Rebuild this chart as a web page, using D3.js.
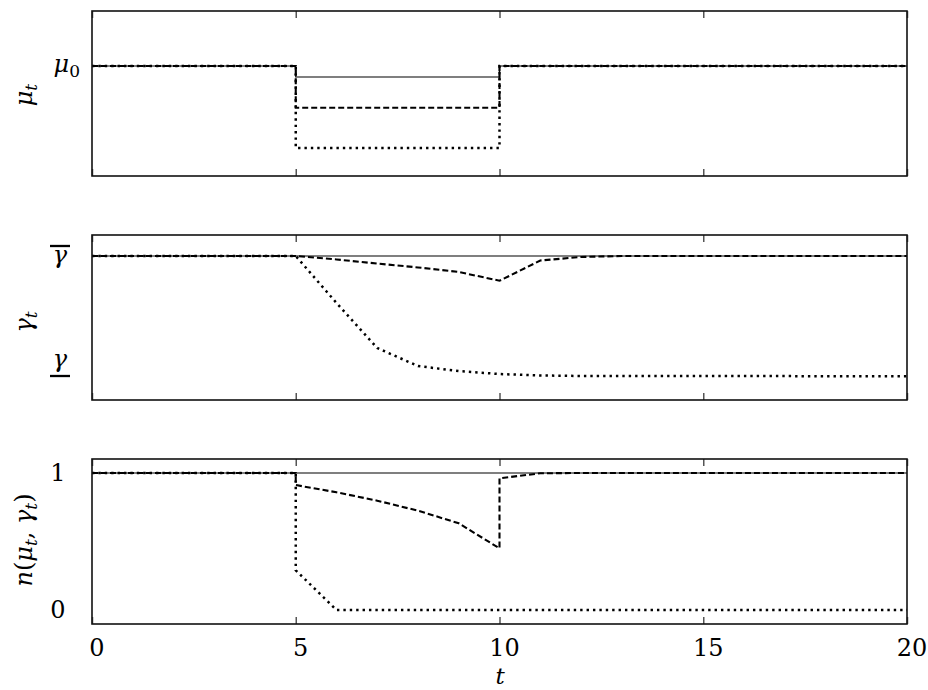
<!DOCTYPE html>
<html><head><meta charset="utf-8">
<script src="https://cdn.jsdelivr.net/npm/d3@7"></script>
<style>body{margin:0;background:#fff}svg{display:block}</style>
</head><body><svg id="chart" width="928" height="690"></svg>
<script>
// ---------------- data ----------------
const xTicks = [0, 5, 10, 15, 20];
const xTickLabels = ["0", "5", "10", "15", "20"];

// panel 1: mu_t (step after)
const tMu      = [0,1,2,3,4,5,6,7,8,9,10,11,12,13,14,15,16,17,18,19,20];
const muSolid  = [1,1,1,1,1,0.9,0.9,0.9,0.9,0.9,1,1,1,1,1,1,1,1,1,1,1];
const muDashed = [1,1,1,1,1,0.62,0.62,0.62,0.62,0.62,1,1,1,1,1,1,1,1,1,1,1];
const muDotted = [1,1,1,1,1,0.255,0.255,0.255,0.255,0.255,1,1,1,1,1,1,1,1,1,1,1];
const muTickValues = [1];

// panel 2: gamma_t  (gammaBar = 1, gammaUnder = 0)
const tGamma      = [0,1,2,3,4,5,6,7,8,9,10,11,12,13,14,15,16,17,18,19,20];
const gammaSolid  = [1,1,1,1,1,1,1,1,1,1,1,1,1,1,1,1,1,1,1,1,1];
const gammaDashed = [1,1,1,1,1,1,0.968,0.93,0.894,0.852,0.771,0.958,0.991,1,1,1,1,1,1,1,1];
const gammaDotted = [1,1,1,1,1,1,0.565,0.148,-0.019,-0.065,-0.093,-0.106,-0.111,-0.111,-0.112,-0.112,-0.112,-0.112,-0.113,-0.113,-0.113];
const gammaTickValues = [1, 0];

// panel 3: n(mu_t, gamma_t)  (jumps at t = 5 and t = 10)
const tN      = [0,1,2,3,4,5,5,6,7,8,9,10,10,11,12,13,14,15,16,17,18,19,20];
const nSolid  = [1,1,1,1,1,1,1,1,1,1,1,1,1,1,1,1,1,1,1,1,1,1,1];
const nDashed = [1,1,1,1,1,1,0.912,0.859,0.798,0.725,0.633,0.45,0.961,0.998,1,1,1,1,1,1,1,1,1];
const nDotted = [1,1,1,1,1,1,0.29,0,0,0,0,0,0,0,0,0,0,0,0,0,0,0,0];
const nTickValues = [1, 0];
const nTickLabels = ["1", "0"];

// ---------------- layout ----------------
const svg = d3.select("#chart");
svg.append("rect").attr("width", 928).attr("height", 690).attr("fill", "#fff");
const serif = "'DejaVu Serif', serif";
const FS = 24;
const SUB = 17;

const x = d3.scaleLinear().domain([0, 20]).range([92, 907]);

const panels = [
  {top: 11,  bottom: 176, domain: [0, 1.5],        t: tMu,    series: [muSolid, muDashed, muDotted], curve: d3.curveStepAfter},
  {top: 235, bottom: 400, domain: [-0.3333, 1.1944], t: tGamma, series: [gammaSolid, gammaDashed, gammaDotted], curve: d3.curveLinear},
  {top: 459, bottom: 624, domain: [-0.1022, 1.1022], t: tN,     series: [nSolid, nDashed, nDotted], curve: d3.curveLinear}
];
const styles = [
  {w: 1.2, dash: null},
  {w: 2.1, dash: "6,3"},
  {w: 2.5, dash: "2.4,4"}
];

panels.forEach(p => {
  p.y = d3.scaleLinear().domain(p.domain).range([p.bottom, p.top]);
  const g = svg.append("g");
  p.series.forEach((vals, i) => {
    const pts = p.t.map((tv, k) => [tv, vals[k]]);
    const line = d3.line().x(d => x(d[0])).y(d => p.y(d[1])).curve(p.curve);
    g.append("path").attr("d", line(pts))
      .attr("fill", "none").attr("stroke", "#000")
      .attr("stroke-width", styles[i].w)
      .attr("stroke-dasharray", styles[i].dash)
      .attr("stroke-linejoin", "miter");
  });
  const axB = g.append("g").attr("transform", `translate(0,${p.bottom})`)
    .call(d3.axisTop(x).tickValues(xTicks).tickSize(7).tickFormat(""));
  const axT = g.append("g").attr("transform", `translate(0,${p.top})`)
    .call(d3.axisBottom(x).tickValues(xTicks).tickSize(7).tickFormat(""));
  [axB, axT].forEach(a => {
    a.select(".domain").remove();
    a.selectAll("line").attr("stroke", "#555").attr("stroke-width", 1.5);
  });
  g.append("rect").attr("x", x(0)).attr("y", p.top)
    .attr("width", x(20) - x(0)).attr("height", p.bottom - p.top)
    .attr("fill", "none").attr("stroke", "#111").attr("stroke-width", 1.6);
});

// x tick labels (bottom panel)
const pB = panels[2];
const axLab = svg.append("g").attr("transform", `translate(0,${pB.bottom})`)
  .call(d3.axisBottom(x).tickValues(xTicks).tickSize(0).tickFormat((d, i) => xTickLabels[i]));
axLab.select(".domain").remove();
axLab.selectAll("text").attr("font-family", serif).attr("font-size", FS)
  .attr("fill", "#000").attr("dy", null).attr("y", 32).attr("dx", 4.5);

// x axis label
svg.append("text").attr("x", 500).attr("y", 684).attr("text-anchor", "middle")
  .attr("font-family", serif).attr("font-size", 23).attr("font-style", "italic").text("t");

// ---- y tick labels ----
const pM = panels[0];
muTickValues.forEach(v => {
  const tx = svg.append("text").attr("x", 80).attr("y", pM.y(v) + 6)
    .attr("text-anchor", "end").attr("font-family", serif).attr("font-size", FS);
  tx.append("tspan").attr("font-style", "italic").text("μ");
  tx.append("tspan").attr("font-size", SUB).attr("dy", 5).text("0");
});
const pG = panels[1];
gammaTickValues.forEach(v => {
  const yy = pG.y(v);
  const base = v === 1 ? yy + 7 : yy + 3;
  svg.append("text").attr("x", 60).attr("y", base).attr("text-anchor", "middle")
    .attr("font-family", serif).attr("font-size", FS).attr("font-style", "italic").text("γ");
  const barY = v === 1 ? yy - 10 : yy + 12;
  svg.append("line").attr("x1", 50).attr("x2", 70).attr("y1", barY).attr("y2", barY)
    .attr("stroke", "#000").attr("stroke-width", 2.3);
});
nTickValues.forEach((v, i) => {
  svg.append("text").attr("x", 58).attr("y", pB.y(v) + 8).attr("text-anchor", "middle")
    .attr("font-family", serif).attr("font-size", FS).text(nTickLabels[i]);
});

// ---- y axis titles (rotated) ----
function yTitle(cy, build) {
  const tx = svg.append("text").attr("transform", `translate(32,${cy}) rotate(-90)`)
    .attr("text-anchor", "middle").attr("font-family", serif).attr("font-size", FS);
  build(tx);
}
yTitle(95, tx => {
  tx.append("tspan").attr("font-style", "italic").text("μ");
  tx.append("tspan").attr("font-style", "italic").attr("font-size", SUB).attr("dy", 5).text("t");
});
yTitle(322, tx => {
  tx.append("tspan").attr("font-style", "italic").text("γ");
  tx.append("tspan").attr("font-style", "italic").attr("font-size", SUB).attr("dy", 5).text("t");
});
yTitle(540, tx => {
  tx.append("tspan").attr("font-style", "italic").text("n");
  tx.append("tspan").text("(");
  tx.append("tspan").attr("font-style", "italic").text("μ");
  tx.append("tspan").attr("font-style", "italic").attr("font-size", SUB).attr("dy", 5).text("t");
  tx.append("tspan").attr("dy", -5).text(", ");
  tx.append("tspan").attr("font-style", "italic").text("γ");
  tx.append("tspan").attr("font-style", "italic").attr("font-size", SUB).attr("dy", 5).text("t");
  tx.append("tspan").attr("dy", -5).text(")");
});
</script>
</body></html>
